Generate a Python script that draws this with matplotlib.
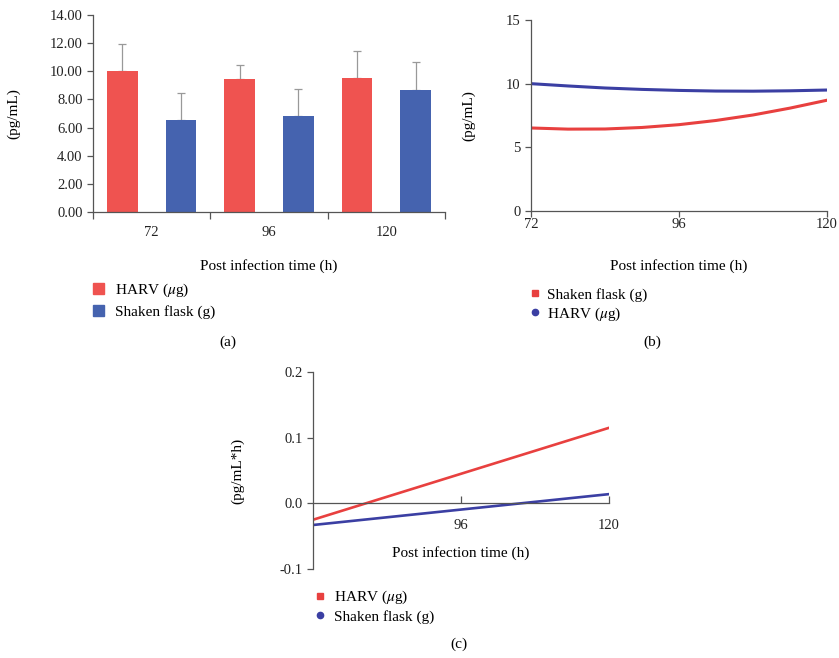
import matplotlib
matplotlib.use("Agg")
import matplotlib.pyplot as plt
import numpy as np
from matplotlib.patches import Patch
from matplotlib.lines import Line2D

plt.rcParams['font.family'] = ['Liberation Serif', 'DejaVu Serif']
plt.rcParams['font.size'] = 11
plt.rcParams['xtick.labelsize'] = 10.5
plt.rcParams['ytick.labelsize'] = 10.5
plt.rcParams['mathtext.fontset'] = 'stix'

# ---------------- data ----------------
times = ["72", "96", "120"]
harv_mean = [10.0, 9.46, 9.50]
harv_err = [1.94, 0.97, 1.97]
flask_mean = [6.52, 6.79, 8.70]
flask_err = [1.97, 1.96, 1.99]

# panel (b): fitted curves
b_time = [72, 78, 84, 90, 96, 102, 108, 114, 120]
b_flask = [6.52, 6.43, 6.44, 6.56, 6.78, 7.11, 7.54, 8.08, 8.70]
b_harv = [10.0, 9.82, 9.66, 9.55, 9.47, 9.42, 9.41, 9.44, 9.50]

# panel (c): rate lines
c_time = [72, 120]
c_harv = [-0.025, 0.115]
c_flask = [-0.033, 0.014]

RED_BAR = '#EF5350'
BLUE_BAR = '#4563AF'
RED_LINE = '#E8403F'
BLUE_LINE = '#3B3FA3'
AX_COL = '#555555'

W, H = 839, 658
fig = plt.figure(figsize=(W / 100, H / 100), dpi=100)


def rect(l, r, t, b):
    return [l / W, 1 - b / H, (r - l) / W, (b - t) / H]


def style(ax):
    for s in ['top', 'right']:
        ax.spines[s].set_visible(False)
    for s in ['left', 'bottom']:
        ax.spines[s].set_color(AX_COL)
        ax.spines[s].set_linewidth(0.9)
    ax.tick_params(colors=AX_COL, labelcolor='#222222', width=0.9, length=4)


# ---------------- (a) ----------------
axa = fig.add_axes(rect(93, 445, 15, 212))
style(axa)
x = np.arange(len(times))
axa.bar(x - 0.25, harv_mean, width=0.26, color=RED_BAR, zorder=2)
axa.bar(x + 0.25, flask_mean, width=0.26, color=BLUE_BAR, zorder=2)
axa.errorbar(x - 0.25, harv_mean, yerr=[np.zeros(3), harv_err], fmt='none',
             ecolor='#999999', elinewidth=0.9, capsize=3, capthick=0.9, zorder=1)
axa.errorbar(x + 0.25, flask_mean, yerr=[np.zeros(3), flask_err], fmt='none',
             ecolor='#999999', elinewidth=0.9, capsize=3, capthick=0.9, zorder=1)
axa.set_xlim(-0.5, 2.5)
axa.set_ylim(0, 14)
axa.set_yticks(np.arange(0, 14.01, 2))
axa.set_yticklabels([f"{v:.2f}" for v in np.arange(0, 14.01, 2)])
axa.set_xticks(x)
axa.set_xticklabels(times)
axa.tick_params(axis='x', which='major', length=0, pad=10)
axa.set_xticks([-0.5, 0.5, 1.5, 2.5], minor=True)
axa.tick_params(axis='x', which='minor', length=5, color=AX_COL, width=0.9)
axa.set_ylabel("(pg/mL)")
axa.yaxis.set_label_coords(-0.207, 0.5)
axa.set_xlabel("Post infection time (h)")
axa.xaxis.set_label_coords(0.5, -0.24)
leg_a = [Patch(color=RED_BAR, label=r"HARV ($\mu$g)"),
         Patch(color=BLUE_BAR, label="Shaken flask (g)")]
fig.legend(handles=leg_a, loc='upper left', bbox_to_anchor=(82 / W, 1 - 271 / H),
           frameon=False, handlelength=0.75, handleheight=0.75, handletextpad=0.7,
           labelspacing=0.38, borderpad=0.2)
fig.text(228 / W, 1 - 342 / H, "(a)", ha='center', va='center')

# ---------------- (b) ----------------
axb = fig.add_axes(rect(531, 827, 20, 211))
style(axb)
axb.plot(b_time, b_harv, color=BLUE_LINE, lw=2.2)
axb.plot(b_time, b_flask, color=RED_LINE, lw=2.2)
axb.set_xlim(72, 120)
axb.set_ylim(0, 15)
axb.set_xticks([72, 96, 120])
axb.set_yticks([0, 5, 10, 15])
axb.tick_params(axis='x', pad=1)
axb.set_ylabel("(pg/mL)")
axb.yaxis.set_label_coords(-0.189, 0.5)
axb.set_xlabel("Post infection time (h)")
axb.xaxis.set_label_coords(0.5, -0.25)
leg_b = [Line2D([], [], marker='s', color=RED_LINE, ls='none', markersize=4.5,
                label="Shaken flask (g)"),
         Line2D([], [], marker='o', color=BLUE_LINE, ls='none', markersize=4.5,
                label=r"HARV ($\mu$g)")]
fig.legend(handles=leg_b, loc='upper left', bbox_to_anchor=(518 / W, 1 - 277 / H),
           frameon=False, handlelength=0.8, handletextpad=0.4,
           labelspacing=0.25, borderpad=0.2)
fig.text(652 / W, 1 - 342 / H, "(b)", ha='center', va='center')

# ---------------- (c) ----------------
axc = fig.add_axes(rect(313, 609, 372, 569))
style(axc)
axc.plot(c_time, c_harv, color=RED_LINE, lw=1.9)
axc.plot(c_time, c_flask, color=BLUE_LINE, lw=1.9)
axc.set_xlim(72, 120)
axc.set_ylim(-0.1, 0.2)
axc.spines['bottom'].set_position(('data', 0))
axc.set_xticks([96, 120])
axc.set_yticks([-0.1, 0.0, 0.1, 0.2])
axc.set_yticklabels(["-0.1", "0.0", "0.1", "0.2"])
axc.tick_params(axis='x', direction='in', length=5, pad=11)
axc.set_ylabel("(pg/mL*h)")
axc.yaxis.set_label_coords(-0.233, 0.5)
axc.text(0.5, 0.081, "Post infection time (h)", transform=axc.transAxes,
         ha='center', va='center')
leg_c = [Line2D([], [], marker='s', color=RED_LINE, ls='none', markersize=4.5,
                label=r"HARV ($\mu$g)"),
         Line2D([], [], marker='o', color=BLUE_LINE, ls='none', markersize=4.5,
                label="Shaken flask (g)")]
fig.legend(handles=leg_c, loc='upper left', bbox_to_anchor=(303 / W, 1 - 578 / H),
           frameon=False, handlelength=0.8, handletextpad=0.5,
           labelspacing=0.25, borderpad=0.2)
fig.text(459 / W, 1 - 644 / H, "(c)", ha='center', va='center')

fig.savefig("out.png", dpi=100)
